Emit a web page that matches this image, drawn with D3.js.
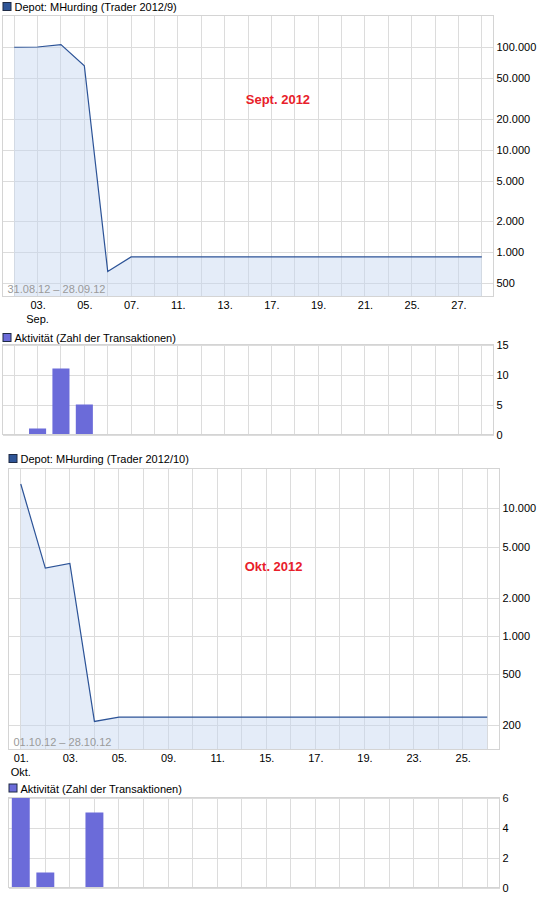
<!DOCTYPE html>
<html>
<head>
<meta charset="utf-8">
<script src="https://cdn.jsdelivr.net/npm/d3@7"></script>
<style>
  body { margin: 0; background: #fff; }
  svg text { font-family: "Liberation Sans", Arial, sans-serif; font-size: 11px; fill: #000; }
  .grid line { stroke: #dcdcdc; shape-rendering: crispEdges; }
  .frame { fill: none; stroke: #d4d4d4; shape-rendering: crispEdges; }
</style>
</head>
<body>
<svg id="chart" width="545" height="907"></svg>
<script>
// Handelstage September 2012
const daysSep = ["31.08.", "03.09.", "04.09.", "05.09.", "06.09.", "07.09.", "10.09.", "11.09.", "12.09.", "13.09.", "14.09.",
                 "17.09.", "18.09.", "19.09.", "20.09.", "21.09.", "24.09.", "25.09.", "26.09.", "27.09.", "28.09."];
const depotSep = [100000, 100500, 106000, 66000, 650, 900, 900, 900, 900, 900, 900,
                  900, 900, 900, 900, 900, 900, 900, 900, 900, 900];
const tradesSep = [0, 1, 11, 5, 0, 0, 0, 0, 0, 0, 0,
                   0, 0, 0, 0, 0, 0, 0, 0, 0, 0];
const xTicksSep = ["03.09.", "05.09.", "07.09.", "11.09.", "13.09.", "17.09.", "19.09.", "21.09.", "25.09.", "27.09."];
const yTicksSep = [500, 1000, 2000, 5000, 10000, 20000, 50000, 100000];
const actTicksSep = [0, 5, 10, 15];

// Handelstage Oktober 2012
const daysOkt = ["01.10.", "02.10.", "03.10.", "04.10.", "05.10.", "08.10.", "09.10.", "10.10.", "11.10.", "12.10.",
                 "15.10.", "16.10.", "17.10.", "18.10.", "19.10.", "22.10.", "23.10.", "24.10.", "25.10.", "26.10."];
const depotOkt = [15500, 3400, 3700, 214, 231, 231, 231, 231, 231, 231,
                  231, 231, 231, 231, 231, 231, 231, 231, 231, 231];
const tradesOkt = [6, 1, 0, 5, 0, 0, 0, 0, 0, 0,
                   0, 0, 0, 0, 0, 0, 0, 0, 0, 0];
const xTicksOkt = ["01.10.", "03.10.", "05.10.", "09.10.", "11.10.", "15.10.", "17.10.", "19.10.", "23.10.", "25.10."];
const yTicksOkt = [200, 500, 1000, 2000, 5000, 10000];
const actTicksOkt = [0, 2, 4, 6];

const svg = d3.select("#chart");
const de = d3.formatLocale({decimal: ",", thousands: ".", grouping: [3], currency: ["", " €"]});
const fmt = de.format(",d");

function header(g, x, y, text, color) {
    g.append("rect").attr("x", x + 0.5).attr("y", y - 8.5).attr("width", 8).attr("height", 8)
        .attr("fill", color).attr("stroke", "#1e2a44");
    g.append("text").attr("x", x + 12).attr("y", y).text(text);
}

function grid(g, x, y, days, yTicks, b) {
    const gr = g.append("g").attr("class", "grid");
    gr.selectAll(".v").data(days).enter().append("line")
        .attr("x1", d => x(d)).attr("x2", d => x(d)).attr("y1", b.y0).attr("y2", b.y1);
    gr.selectAll(".h").data(yTicks).enter().append("line")
        .attr("x1", b.x0).attr("x2", b.x1).attr("y1", d => Math.round(y(d)) + 0.5).attr("y2", d => Math.round(y(d)) + 0.5);
}

function depot(o) {
    const b = o.box;
    const g = svg.append("g");
    const x = d3.scalePoint().domain(o.days).range([b.x0, b.x1]).padding(0.5);
    const y = d3.scaleLog().domain(o.yDomain).range([b.y1, b.y0]);

    header(g, b.x0, o.headY, o.title, "#2f5597");
    grid(g, x, y, o.days, o.yTicks, b);

    const pts = o.days.map((d, i) => ({d, v: o.values[i]}));
    g.append("path").datum(pts)
        .attr("fill", "rgba(196,212,240,0.45)")
        .attr("d", d3.area().x(p => x(p.d)).y0(b.y1).y1(p => y(p.v)));
    g.append("path").datum(pts)
        .attr("fill", "none").attr("stroke", "#2c5397").attr("stroke-width", 1.2)
        .attr("d", d3.line().x(p => x(p.d)).y(p => y(p.v)));

    g.append("rect").attr("class", "frame")
        .attr("x", b.x0).attr("y", b.y0).attr("width", b.x1 - b.x0).attr("height", b.y1 - b.y0);

    // Y-Achse rechts
    const ya = g.append("g").attr("transform", `translate(${b.x1},0)`)
        .call(d3.axisRight(y).tickValues(o.yTicks).tickFormat(fmt).tickSize(0).tickPadding(3));
    ya.select(".domain").remove();
    ya.selectAll("text").style("font-size", "11px").style("font-family", null);

    // X-Achse
    const xa = g.append("g").attr("transform", `translate(0,${b.y1})`)
        .call(d3.axisBottom(x).tickValues(o.xTicks).tickFormat(d => d.slice(0, 3)).tickSize(0).tickPadding(5));
    xa.select(".domain").remove();
    xa.selectAll("text").style("font-size", "11px").style("font-family", null);
    g.append("text").attr("x", x(o.xTicks[0])).attr("y", b.y1 + 26)
        .attr("text-anchor", "middle").text(o.month);

    g.append("text").attr("x", b.x0 + 5).attr("y", b.y1 - 3.5)
        .style("fill", "#9a9a9a").text(o.range);

    g.append("text").attr("x", b.x0 + o.labelPos[0] * (b.x1 - b.x0)).attr("y", b.y0 + o.labelPos[1] * (b.y1 - b.y0))
        .attr("text-anchor", "middle")
        .style("fill", "#e8202a").style("font-weight", "bold").style("font-size", "13px")
        .text(o.label);
}

function activity(o) {
    const b = o.box;
    const g = svg.append("g");
    const x = d3.scalePoint().domain(o.days).range([b.x0, b.x1]).padding(0.5);
    const y = d3.scaleLinear().domain(o.yDomain).range([b.y1, b.y0]);
    const bw = x.step() * 0.73;

    header(g, b.x0, o.headY, "Aktivität (Zahl der Transaktionen)", "#6b6bd9");
    grid(g, x, y, o.days, o.yTicks, b);

    g.selectAll(".bar").data(o.days.map((d, i) => ({d, v: o.values[i]})).filter(p => p.v > 0))
        .enter().append("rect")
        .attr("x", p => x(p.d) - bw / 2).attr("width", bw)
        .attr("y", p => y(p.v)).attr("height", p => y(0) - y(p.v))
        .attr("fill", "#6b6bd9");

    g.append("rect").attr("class", "frame")
        .attr("x", b.x0).attr("y", b.y0).attr("width", b.x1 - b.x0).attr("height", b.y1 - b.y0);

    const ya = g.append("g").attr("transform", `translate(${b.x1},0)`)
        .call(d3.axisRight(y).tickValues(o.yTicks).tickFormat(d3.format("d")).tickSize(0).tickPadding(3));
    ya.select(".domain").remove();
    ya.selectAll("text").style("font-size", "11px").style("font-family", null);
}

depot({
    box: {x0: 2.5, x1: 493.5, y0: 15.5, y1: 296.5},
    headY: 11, title: "Depot: MHurding (Trader 2012/9)",
    days: daysSep, values: depotSep, yDomain: [370, 204000], yTicks: yTicksSep,
    xTicks: xTicksSep, month: "Sep.", range: "31.08.12 – 28.09.12",
    label: "Sept. 2012", labelPos: [0.561, 0.315]
});
activity({
    box: {x0: 2.5, x1: 493.5, y0: 344.5, y1: 434.5},
    headY: 342, days: daysSep, values: tradesSep, yDomain: [0, 15], yTicks: actTicksSep
});
depot({
    box: {x0: 8.5, x1: 499.5, y0: 468.5, y1: 749.5},
    headY: 463, title: "Depot: MHurding (Trader 2012/10)",
    days: daysOkt, values: depotOkt, yDomain: [129, 20500], yTicks: yTicksOkt,
    xTicks: xTicksOkt, month: "Okt.", range: "01.10.12 – 28.10.12",
    label: "Okt. 2012", labelPos: [0.54, 0.363]
});
activity({
    box: {x0: 8.5, x1: 499.5, y0: 797.5, y1: 887.5},
    headY: 792.5, days: daysOkt, values: tradesOkt, yDomain: [0, 6], yTicks: actTicksOkt
});
</script>
</body>
</html>
